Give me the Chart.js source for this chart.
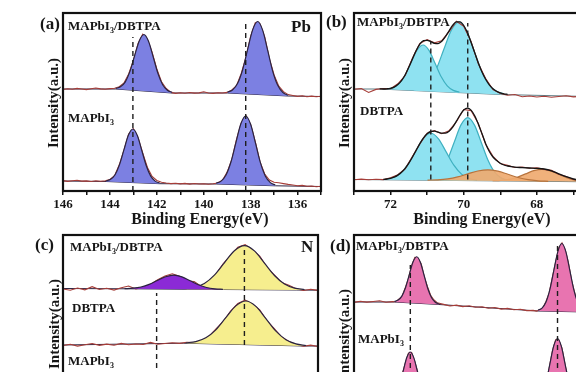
<!DOCTYPE html>
<html>
<head>
<meta charset="utf-8">
<script src="https://cdn.jsdelivr.net/npm/chart.js@4/dist/chart.umd.min.js"></script>
<style>
html, body { margin: 0; padding: 0; background: #fff; }
body { width: 576px; height: 372px; overflow: hidden; position: relative; }
canvas { position: absolute; }
.t { position: absolute; font-family: 'Liberation Serif', 'Times New Roman', serif; font-weight: bold; color: #161616; white-space: nowrap; line-height: 1; transform: translateY(-50%); }
.pl { font-size: 17px; }
.sl { font-size: 13px; }
.el { font-size: 17px; }
.t sub { font-size: 8px; vertical-align: -3px; line-height: 0; }
.yl { font-size: 15px; transform: translate(-50%, -50%) rotate(-90deg); }
.xl { font-size: 16px; transform: translate(-50%, -50%); }
</style>
</head>
<body>
<canvas id="pa" width="330" height="240" style="left:0;top:0"></canvas>
<canvas id="pb" width="330" height="240" style="left:291px;top:0"></canvas>
<canvas id="pc" width="330" height="240" style="left:0;top:222px"></canvas>
<canvas id="pd" width="330" height="240" style="left:291px;top:222px"></canvas>

<div class="t pl" style="left:40px;top:23px">(a)</div>
<div class="t sl" style="left:68px;top:25px">MAPbI<sub>3</sub>/DBTPA</div>
<div class="t el" style="left:291px;top:26px">Pb</div>
<div class="t sl" style="left:68px;top:117px">MAPbI<sub>3</sub></div>
<div class="t yl" style="left:53px;top:103px">Intensity(a.u.)</div>
<div class="t xl" style="left:200px;top:219px">Binding Energy(eV)</div>

<div class="t pl" style="left:326px;top:21px">(b)</div>
<div class="t sl" style="left:357px;top:21px">MAPbI<sub>3</sub>/DBTPA</div>
<div class="t sl" style="left:360px;top:110px">DBTPA</div>
<div class="t yl" style="left:344px;top:103px">Intensity(a.u.)</div>
<div class="t xl" style="left:482px;top:219px">Binding Energy(eV)</div>

<div class="t pl" style="left:35px;top:244px">(c)</div>
<div class="t sl" style="left:70px;top:246px">MAPbI<sub>3</sub>/DBTPA</div>
<div class="t el" style="left:301px;top:246px">N</div>
<div class="t sl" style="left:72px;top:307px">DBTPA</div>
<div class="t sl" style="left:68px;top:360px">MAPbI<sub>3</sub></div>
<div class="t yl" style="left:54px;top:324px">Intensity(a.u.)</div>

<div class="t pl" style="left:330px;top:245px">(d)</div>
<div class="t sl" style="left:356px;top:245px">MAPbI<sub>3</sub>/DBTPA</div>
<div class="t sl" style="left:358px;top:338px">MAPbI<sub>3</sub></div>
<div class="t yl" style="left:344px;top:334px">Intensity(a.u.)</div>

<script>
// ---------- (a) Pb 4f ----------
const aRawX = [146.0,145.8,145.6,145.4,145.2,145.0,144.8,144.6,144.4,144.2,144.0,143.8,143.6,143.4,143.2,143.0,142.8,142.6,142.4,142.2,142.0,141.8,141.6,141.4,141.2,141.0,140.8,140.6,140.4,140.2,140.0,139.8,139.6,139.4,139.2,139.0,138.8,138.6,138.4,138.2,138.0,137.8,137.6,137.4,137.2,137.0,136.8,136.6,136.4,136.2,136.0,135.8,135.6,135.4,135.2,135.0];
const aRawUp = [101.5,102.3,101.8,102.6,102.0,101.4,102.2,103.0,102.1,101.7,102.4,102.8,
  104.2,108.0,117.0,130.2,147.4,156.8,151.8,138.5,122.0,109.3,102.5,98.6,97.6,
  98.3,97.8,98.5,97.9,98.1,99.2,98.0,97.6,98.2,98.0,
  98.6,101.0,105.3,117.5,133.5,154.6,168.3,167.0,154.0,132.2,116.0,104.8,99.3,96.4,
  95.5,94.6,95.2,94.3,94.9,94.2,94.8];
const aRawLow = [10.4,9.6,10.2,10.8,9.9,10.1,9.5,10.3,9.8,
  10.2,11.5,15.3,26.2,40.8,57.0,62.3,53.0,37.8,23.5,14.6,10.5,8.8,
  8.0,7.4,7.8,7.1,7.6,6.9,7.5,7.0,7.3,6.8,7.2,
  8.0,10.7,18.9,31.6,51.8,67.9,75.4,66.2,49.2,29.1,17.0,11.0,8.8,
  8.2,7.4,6.6,6.0,5.2,5.6,4.7,5.0,4.3,4.8];
const aBaseUpX = [146.0, 143.75, 141.35, 138.99, 136.41, 135.0];
const aBaseUpY = [102, 102, 98, 98, 95, 94.5];
const aBaseLowX = [146.0, 144.16, 141.88, 139.47, 136.95, 135.0];
const aBaseLowY = [10, 9.5, 7.3, 7, 5.2, 4.5];
const aUpPk1X = [141.35,141.55,141.75,141.95,142.15,142.35,142.55,142.75,142.95,143.15,143.35,143.55,143.75];
const aUpPk1Y = [98.6,100.8,106.3,117.4,133.6,149.5,156.5,150.1,135.0,119.4,108.9,104.2,102.6];
const aUpPk2X = [136.41,136.625,136.84,137.055,137.27,137.485,137.70,137.915,138.13,138.345,138.56,138.775,138.99];
const aUpPk2Y = [95.8,98.45,105.4,119.45,140.3,160.65,169.5,161.15,141.3,120.95,107.4,100.95,98.8];
const aLowPk1X = [141.88,142.07,142.26,142.45,142.64,142.83,143.02,143.21,143.40,143.59,143.78,143.97,144.16];
const aLowPk1Y = [7.9,9.9,14.9,25.25,40.5,55.5,62.0,55.9,41.3,26.35,16.3,11.7,10.1];
const aLowPk2X = [136.95,137.16,137.37,137.58,137.79,138.0,138.21,138.42,138.63,138.84,139.05,139.26,139.47];
const aLowPk2Y = [6.0,8.35,14.8,28.05,47.6,66.75,75.0,67.05,48.2,28.95,16.0,9.85,7.8];
const aDashX = [143.02, 138.21];
const aDashTop = [154, 168];

// ---------- (b) ----------
const bRawX = [73.0,72.8,72.6,72.4,72.2,72.0,71.8,71.6,71.4,71.2,71.0,70.8,70.6,70.4,70.2,70.0,69.8,69.6,69.4,69.2,69.0,68.8,68.6,68.4,68.2,68.0,67.8,67.6,67.4,67.2,67.0,66.8,66.6,66.4,66.2,66.0];
const bRawUp = [101.8,102.4,98.5,101.6,102.5,102.4,107.2,115.5,133.0,147.5,151.5,148.2,150.3,159.4,169.8,164.8,149.5,127.2,112.5,101.5,97.5,95.8,96.5,94.2,95.0,94.0,94.8,93.8,94.5,95.3,94.1,94.6,93.7,94.2,93.6,94.0];
const bRawLow = [11.2,11.9,11.3,11.8,11.4,13.2,16.3,22.2,34.6,47.0,57.8,60.4,57.3,60.3,69.2,81.5,80.4,67.5,46.8,34.6,27.4,25.6,23.5,24.0,22.7,23.2,21.6,20.6,16.8,14.6,11.6,10.9,9.5,9.6,8.8,9.3];
const bBaseUpX = [73.0, 72.3, 69.0, 66.0];
const bBaseUpY = [102, 102, 96.5, 94];
const bBaseLowX = [73.0, 66.0];
const bBaseLowY = [11.5, 9.0];
const bUpC1X = [70.12,70.285,70.45,70.615,70.78,70.945,71.11,71.275,71.44,71.605,71.77,71.935,72.10];
const bUpC1Y = [98.9,100.6,105.1,114.2,127.4,140.3,146.0,140.9,128.5,115.8,107.3,103.4,102.2];
const bUpC2X = [68.90,69.105,69.31,69.515,69.72,69.925,70.13,70.335,70.54,70.745,70.95,71.155,71.36];
const bUpC2Y = [97.2,99.8,106.5,120.3,140.6,160.3,169.0,161.0,142.0,122.3,109.3,103.2,101.2];
const bUpEnvX = [72.3,72.2,72.1,72.0,71.9,71.8,71.7,71.6,71.5,71.4,71.3,71.2,71.1,71.0,70.9,70.8,70.7,70.6,70.5,70.4,70.3,70.2,70.1,70.0,69.9,69.8,69.7,69.6,69.5,69.4,69.3,69.2,69.1,69.0,68.9,68.8];
const bUpEnvY = [102.1,102.0,102.2,102.7,103.9,106.4,110.3,116.2,123.9,132.3,140.5,146.8,150.3,150.7,149.4,147.7,147.4,149.7,154.3,160.2,165.8,169.1,169.1,165.5,158.4,148.8,138.4,128.1,119.0,111.7,106.2,102.2,99.7,98.1,97.2,96.7];
const bLowC1X = [69.64,69.85,70.06,70.27,70.48,70.69,70.90,71.11,71.32,71.53,71.74,71.95,72.16];
const bLowC1Y = [10.8,12.5,16.85,25.8,39.1,52.2,57.75,52.3,39.4,26.3,17.45,13.2,11.7];
const bLowC2X = [68.78,68.965,69.15,69.335,69.52,69.705,69.89,70.075,70.26,70.445,70.63,70.815,71.0];
const bLowC2Y = [10.7,12.86,18.6,30.7,48.5,65.9,73.4,66.1,48.7,31.1,19.15,13.5,11.5];
const bLowO1X = [67.69,67.965,68.24,68.515,68.79,69.065,69.34,69.615,69.89,70.165,70.44,70.715,70.99];
const bLowO1Y = [9.7,10.2,11.3,13.5,16.7,19.8,21.2,20.0,17.1,14.1,12.1,11.2,10.9];
const bLowO2X = [66.51,66.735,66.96,67.185,67.41,67.635,67.86,68.085,68.31,68.535,68.76,68.985,69.21];
const bLowO2Y = [9.3,9.8,10.9,13.3,16.8,20.2,21.7,20.3,17.1,13.8,11.6,10.6,10.3];
const bLowEnvX = [72.2,72.1,72.0,71.9,71.8,71.7,71.6,71.5,71.4,71.3,71.2,71.1,71.0,70.9,70.8,70.7,70.6,70.5,70.4,70.3,70.2,70.1,70.0,69.9,69.8,69.7,69.6,69.5,69.4,69.3,69.2,69.1,69.0,68.9,68.8,68.7,68.6,68.4,68.2,68.0,67.8,67.6,67.4,67.2,67.0,66.8,66.6,66.4,66.2,66.0];
const bLowEnvY = [11.6,12.0,12.7,13.9,15.9,18.7,22.7,27.9,34.0,40.8,47.4,53.2,57.3,59.5,59.8,58.9,57.8,57.9,59.8,63.9,69.8,76.0,80.9,82.8,80.9,75.2,66.8,57.2,47.3,39.5,34.0,30.5,27.8,26.0,25.0,24.3,23.8,23.4,23.0,22.6,22.0,20.2,17.2,14.3,12.0,10.6,9.8,9.3,9.1,9.0];
const bDashX = [70.90, 69.89];
const bDashTop = [149, 168];

// ---------- (c) N 1s ----------
const cRawX = [404.6,404.4,404.2,404.0,403.8,403.6,403.4,403.2,403.0,402.8,402.6,402.4,402.2,402.0,401.8,401.6,401.4,401.2,401.0,400.8,400.6,400.4,400.2,400.0,399.8,399.6,399.4,399.2,399.0,398.8,398.6,398.4,398.2,398.0,397.8,397.6];
const cRawUp = [124.0,122.8,125.0,123.2,126.3,123.5,124.8,122.9,125.2,127.0,
  124.0,125.8,128.5,133.2,137.0,139.2,136.8,132.0,131.5,126.5,
  128.0,139.0,149.5,157.4,165.8,168.3,163.0,156.9,145.7,138.2,
  130.4,127.8,124.2,122.5,123.8,122.6];
const cRawMid = [67.5,68.8,66.9,68.2,69.5,67.6,68.9,67.8,69.6,68.3,
  69.0,68.5,70.6,68.8,69.5,70.3,69.6,70.8,70.5,72.0,
  76.4,84.0,91.5,102.0,109.5,112.8,109.0,103.1,92.2,84.4,
  76.0,71.5,68.5,66.8,67.9,66.5];
const cBaseUpX = [404.6, 402.8, 400.2, 398.2, 397.6];
const cBaseUpY = [124.5, 124.2, 123.5, 123.0, 122.8];
const cBaseMidX = [404.6, 401.3, 398.0, 397.6];
const cBaseMidY = [68, 69.8, 67, 67];
const cUpPurX = [400.21,400.435,400.66,400.885,401.11,401.335,401.56,401.785,402.01,402.235,402.46,402.685,402.91];
const cUpPurY = [123.65,124.16,125.5,128.2,132.2,136.1,137.9,136.2,132.5,128.6,126.0,124.8,124.35];
const cUpYelX = [397.97,398.245,398.52,398.795,399.07,399.345,399.62,399.895,400.17,400.445,400.72,400.995,401.27];
const cUpYelY = [123.4,124.9,129.0,137.5,149.9,162.1,167.4,162.2,150.2,137.9,129.5,125.6,124.3];
const cMidYelX = [397.93,398.205,398.48,398.755,399.03,399.305,399.58,399.855,400.13,400.405,400.68,400.955,401.23];
const cMidYelY = [67.5,69.1,73.3,81.8,94.4,106.6,112.0,107.1,95.3,83.2,75.2,71.4,70.2];
const cDashX = [402.03, 399.62];
const cDashTop = [120, 167];
const cDashBottom = [0, 68];

// ---------- (d) ----------
const dRawX = [635.0,634.5,634.0,633.5,633.0,632.5,632.0,
  631.75,631.5,631.25,631.0,630.75,630.5,630.25,630.0,629.75,629.5,629.25,629.0,628.75,628.5,
  628.0,627.5,627.0,626.5,626.0,625.5,625.0,624.5,624.0,623.5,623.0,622.5,622.0,621.5,621.0,
  620.75,620.5,620.25,620.0,619.75,619.5,619.25,619.0,618.75,618.5,618.25,618.0,617.75,617.5,617.25,617.0,
  616.5,616.0,615.5,615.0];
const dRawUp = [110.6,111.8,110.9,111.5,112.2,110.8,111.4,
  111.2,113.9,116.6,125.1,134.4,147.3,155.5,154.8,149.0,135.8,126.0,117.3,113.0,110.3,
  108.6,107.0,107.9,106.4,107.2,105.7,106.3,104.8,105.5,103.9,104.6,103.2,103.8,102.4,102.6,
  101.9,103.0,105.0,111.6,120.1,135.8,150.8,165.2,170.0,163.0,150.5,132.6,119.9,109.0,104.9,101.7,
  101.4,100.6,101.2,100.7];
const dRawLow = [14.3,13.6,14.2,13.8,14.5,13.7,15.5,
  19.6,25.5,37.9,49.6,59.9,60.6,51.4,39.8,26.4,19.4,14.1,13.2,12.3,11.5,
  12.1,11.2,11.8,10.7,11.4,10.4,11.0,10.1,10.7,9.6,10.3,9.3,9.9,9.0,9.4,
  10.0,13.6,18.7,30.9,44.8,62.0,73.1,73.0,64.8,47.7,33.2,20.0,14.0,9.6,8.9,7.6,
  8.2,7.7,8.3,7.8];
const dBaseUpX = [635.0, 631.84, 628.36, 620.62, 616.9, 615.0];
const dBaseUpY = [111, 111, 108.5, 102, 101, 101];
const dBaseLowX = [635.0, 632.25, 628.95, 620.9, 617.3, 615.0];
const dBaseLowY = [14, 14, 12, 9, 8, 8];
const dUpP1X = [628.36,628.65,628.94,629.23,629.52,629.81,630.10,630.39,630.68,630.97,631.26,631.55,631.84];
const dUpP1Y = [109.0,110.8,115.2,124.2,137.5,150.5,156.25,150.96,138.4,125.5,116.9,112.9,111.5];
const dUpP2X = [616.9,617.21,617.52,617.83,618.14,618.45,618.76,619.07,619.38,619.69,620.0,620.31,620.62];
const dUpP2Y = [101.75,104.1,110.4,123.35,142.6,161.4,169.5,161.6,143.0,123.85,111.0,104.9,102.75];
const dLowP1X = [628.95,629.225,629.5,629.775,630.05,630.325,630.6,630.875,631.15,631.425,631.7,631.975,632.25];
const dLowP1Y = [12.5,14.3,18.8,28.1,41.8,55.1,61.0,55.5,42.4,29.1,20.2,15.9,14.5];
const dLowP2X = [617.3,617.6,617.9,618.2,618.5,618.8,619.1,619.4,619.7,620.0,620.3,620.6,620.9];
const dLowP2Y = [8.7,11.0,17.1,29.75,48.4,66.6,74.5,66.8,48.8,30.25,17.7,11.8,9.7];
const dDashX = [630.6, 619.1];
const dDashTop = [148, 168];

const RAW = '#a63d38';
const ENV = '#151515';
const DARK = '#2b2340';

function pts(xs, ys) {
    return xs.map((x, i) => ({x: x, y: ys[i]})).sort((p, q) => q.x - p.x);
}

function line(xs, ys, color, width, order, extra) {
    return Object.assign({
        data: pts(xs, ys),
        borderColor: color,
        borderWidth: width,
        pointRadius: 0,
        fill: false,
        tension: 0,
        order: order
    }, extra || {});
}

// filled component between its curve and a baseline dataset
function peak(xs, ys, baseIdx, fillColor, edge, order) {
    return line(xs, ys, edge, 1.2, order, {
        fill: {target: baseIdx},
        backgroundColor: fillColor,
        cubicInterpolationMode: 'monotone'
    });
}

function dash(x, y0, y1) {
    return line([x, x], [y0, y1], '#1e1e1e', 1.4, 0, {borderDash: [5, 4]});
}

const framePlugin = {
    id: 'frame',
    afterDraw(chart) {
        const {ctx, chartArea: a} = chart;
        ctx.save();
        ctx.strokeStyle = '#111';
        ctx.lineWidth = 2.2;
        ctx.strokeRect(a.left, a.top, a.right - a.left, a.bottom - a.top);
        ctx.restore();
    }
};

function makeChart(id, xmin, xmax, padRight, datasets) {
    return new Chart(document.getElementById(id), {
        type: 'line',
        data: {datasets: datasets},
        options: {
            responsive: false,
            animation: false,
            devicePixelRatio: 1,
            layout: {padding: {left: 63, top: 13, right: padRight, bottom: 0}},
            plugins: {legend: {display: false}, tooltip: {enabled: false}},
            scales: {
                x: {
                    type: 'linear',
                    reverse: true,
                    min: xmin,
                    max: xmax,
                    afterFit(scale) { scale.height = 49; },
                    border: {display: false},
                    grid: {display: true, drawOnChartArea: false, drawTicks: true, tickLength: 4, color: '#111', lineWidth: 1.5},
                    ticks: {
                        stepSize: 1,
                        autoSkip: false,
                        maxRotation: 0,
                        padding: 2,
                        color: '#161616',
                        font: {family: 'Liberation Serif', size: 13, weight: 'bold'},
                        callback: v => (Math.round(v) % 2 === 0 ? String(Math.round(v)) : '')
                    }
                },
                y: {display: false, min: 0, max: 178}
            }
        },
        plugins: [framePlugin]
    });
}

// (a)
const A_FILL = '#7c80e2';
makeChart('pa', 135, 146, 9, [
    line(aBaseUpX, aBaseUpY, DARK, 1, 6),                 // 0
    line(aBaseLowX, aBaseLowY, DARK, 1, 6),               // 1
    peak(aUpPk1X, aUpPk1Y, 0, A_FILL, DARK, 2),
    peak(aUpPk2X, aUpPk2Y, 0, A_FILL, DARK, 2),
    peak(aLowPk1X, aLowPk1Y, 1, A_FILL, DARK, 2),
    peak(aLowPk2X, aLowPk2Y, 1, A_FILL, DARK, 2),
    line(aRawX, aRawUp, RAW, 1.1, 4),
    line(aRawX, aRawLow, RAW, 1.1, 4),
    dash(aDashX[0], 0, aDashTop[0]),
    dash(aDashX[1], 0, aDashTop[1])
]);

// (b)
const CYAN = '#8fe2f1', CYAN_EDGE = '#3fb0c0';
const ORANGE = 'rgba(239,170,112,0.92)', ORANGE_EDGE = '#b8733c';
makeChart('pb', 66, 73, 11, [
    line(bBaseUpX, bBaseUpY, '#4d6f78', 0.9, 7),          // 0
    line(bBaseLowX, bBaseLowY, '#4d6f78', 0.9, 7),        // 1
    peak(bUpC1X, bUpC1Y, 0, CYAN, CYAN_EDGE, 4),
    peak(bUpC2X, bUpC2Y, 0, CYAN, CYAN_EDGE, 4),
    peak(bLowC1X, bLowC1Y, 1, CYAN, CYAN_EDGE, 4),
    peak(bLowC2X, bLowC2Y, 1, CYAN, CYAN_EDGE, 4),
    peak(bLowO1X, bLowO1Y, 1, ORANGE, ORANGE_EDGE, 3),
    peak(bLowO2X, bLowO2Y, 1, ORANGE, ORANGE_EDGE, 3),
    line(bRawX, bRawUp, RAW, 1.1, 2),
    line(bRawX, bRawLow, RAW, 1.1, 2),
    line(bUpEnvX, bUpEnvY, ENV, 1.3, 1, {cubicInterpolationMode: 'monotone'}),
    line(bLowEnvX, bLowEnvY, ENV, 1.3, 1, {cubicInterpolationMode: 'monotone'}),
    dash(bDashX[0], bBaseLowY[0], bDashTop[0]),
    dash(bDashX[1], bBaseLowY[0], bDashTop[1])
]);

// (c)
const PURPLE = '#8b2ad6', YELLOW = '#f6ee8e';
makeChart('pc', 397.6, 404.6, 12, [
    line(cBaseUpX, cBaseUpY, DARK, 1, 6),                 // 0
    line(cBaseMidX, cBaseMidY, DARK, 1, 6),               // 1
    peak(cUpPurX, cUpPurY, 0, PURPLE, DARK, 2),
    peak(cUpYelX, cUpYelY, 0, YELLOW, DARK, 3),
    peak(cMidYelX, cMidYelY, 1, YELLOW, DARK, 3),
    line(cRawX, cRawUp, RAW, 1.1, 4),
    line(cRawX, cRawMid, RAW, 1.1, 4),
    dash(cDashX[0], cDashBottom[0], cDashTop[0]),
    dash(cDashX[1], cDashBottom[1], cDashTop[1])
]);

// (d)
const PINK = '#e874b0';
makeChart('pd', 615, 635, 11, [
    line(dBaseUpX, dBaseUpY, DARK, 1, 6),                 // 0
    line(dBaseLowX, dBaseLowY, DARK, 1, 6),               // 1
    peak(dUpP1X, dUpP1Y, 0, PINK, DARK, 2),
    peak(dUpP2X, dUpP2Y, 0, PINK, DARK, 2),
    peak(dLowP1X, dLowP1Y, 1, PINK, DARK, 2),
    peak(dLowP2X, dLowP2Y, 1, PINK, DARK, 2),
    line(dRawX, dRawUp, RAW, 1.1, 4),
    line(dRawX, dRawLow, RAW, 1.1, 4),
    dash(dDashX[0], 0, dDashTop[0]),
    dash(dDashX[1], 0, dDashTop[1])
]);
</script>
</body>
</html>
